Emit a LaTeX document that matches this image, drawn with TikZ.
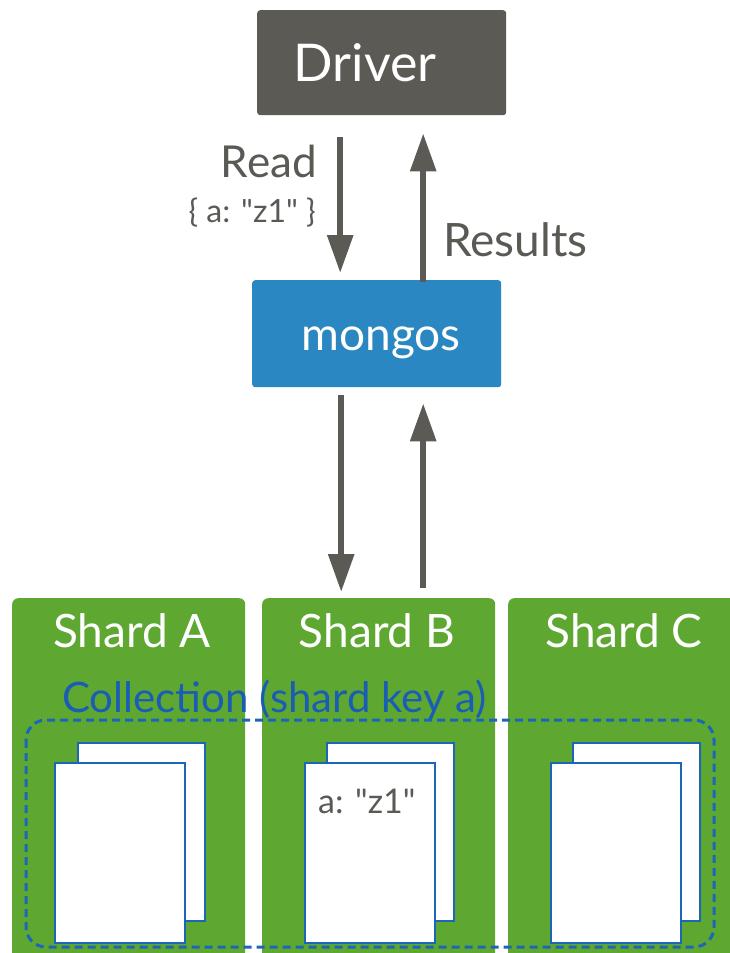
\documentclass[tikz,border=0pt]{standalone}
\usepackage{fontspec}
\setmainfont{Lato}[Ligatures=TeXOff]
\usetikzlibrary{arrows.meta}
\definecolor{drvgray}{HTML}{5C5A55}
\definecolor{txtgray}{HTML}{5B5954}
\definecolor{mgblue}{HTML}{2B87C2}
\definecolor{shgreen}{HTML}{5EA832}
\definecolor{colblue}{HTML}{1A5DB5}
\definecolor{docblue}{HTML}{1C66B8}
\tikzset{
  box/.style={rectangle, rounded corners=3pt, inner sep=0pt, anchor=north west},
  shardbox/.style={rectangle, rounded corners=6pt, inner sep=0pt, anchor=north west, fill=shgreen, minimum width=233pt, minimum height=380pt},
  doc/.style={rectangle, draw=docblue, line width=1.8pt, fill=white, inner sep=0pt, anchor=north west, minimum width=127pt, minimum height=178pt},
  arr/.style={draw=drvgray, line width=6pt, -{Triangle[width=25pt,length=38pt]}},
  shardlabel/.style={text=white, font=\fontsize{46}{50}\selectfont, anchor=base, inner sep=0pt},
}
\begin{document}
\begin{tikzpicture}[x=1pt,y=-1pt]
\useasboundingbox (0,0) rectangle (730,953);
\clip (0,0) rectangle (730,953);
% top nodes
\node[box, fill=drvgray, minimum width=249pt, minimum height=105pt] (driver) at (257,10) {};
\node[text=white, font=\fontsize{52}{56}\selectfont, inner sep=0pt, anchor=base] (drvtxt) at (365,81) {Driver};
\node[box, fill=mgblue, minimum width=249pt, minimum height=107pt] (mongos) at (252,280) {};
\node[text=white, font=\fontsize{46}{50}\selectfont, inner sep=0pt, anchor=base] (mgtxt) at (381,350) {mongos};
% shards
\node[shardbox] (shA) at (12,598) {};
\node[shardbox] (shB) at (262,598) {};
\node[shardbox] (shC) at (508,598) {};
\node[shardlabel] (lA) at (132,647) {Shard A};
\node[shardlabel] (lB) at (377,647) {Shard B};
\node[shardlabel] (lC) at (624,647) {Shard C};
% collection
\node[text=colblue, font=\fontsize{42}{46}\selectfont, anchor=base west, inner sep=0pt] (coltxt) at (62,712) {Collection (shard key a)};
\draw[draw=docblue, line width=3pt, dash pattern=on 8pt off 5pt, rounded corners=20pt] (26,720) rectangle (714,947);
% documents
\node[doc] (dAb) at (77,742) {};
\node[doc, minimum width=130pt, minimum height=180pt] (dAf) at (54,762) {};
\node[doc] (dBb) at (326,742) {};
\node[doc, minimum width=130pt, minimum height=180pt] (dBf) at (304,762) {};
\node[doc] (dCb) at (572,742) {};
\node[doc, minimum width=130pt, minimum height=180pt] (dCf) at (550,762) {};
\node[text=txtgray, font=\fontsize{34}{38}\selectfont, anchor=base west, inner sep=0pt] (doctxt) at (318,813) {a: "z1"};
% labels
\node[text=txtgray, font=\fontsize{44}{48}\selectfont, anchor=base east, inner sep=0pt] (readtxt) at (317,177) {Read};
\node[text=txtgray, font=\fontsize{32}{36}\selectfont, anchor=base east, inner sep=0pt] (querytxt) at (316,222) {\{ a: "z1" \}};
\node[text=txtgray, font=\fontsize{46}{50}\selectfont, anchor=base west, inner sep=0pt] (restxt) at (443,256) {Results};
% arrows
\draw[arr] ([xshift=-41.5pt,yshift=-22pt]driver.south) -- ([xshift=-36.5pt,yshift=7pt]mongos.north);
\draw[arr] ([xshift=46.5pt,yshift=-2pt]mongos.north) -- ([xshift=41.5pt,yshift=-18pt]driver.south);
\draw[arr] ([xshift=-35.5pt,yshift=-8pt]mongos.south) -- ([xshift=-37.5pt,yshift=6pt]shB.north);
\draw[arr] ([xshift=44.5pt,yshift=10pt]shB.north) -- ([xshift=46.5pt,yshift=-16pt]mongos.south);
\end{tikzpicture}
\end{document}
